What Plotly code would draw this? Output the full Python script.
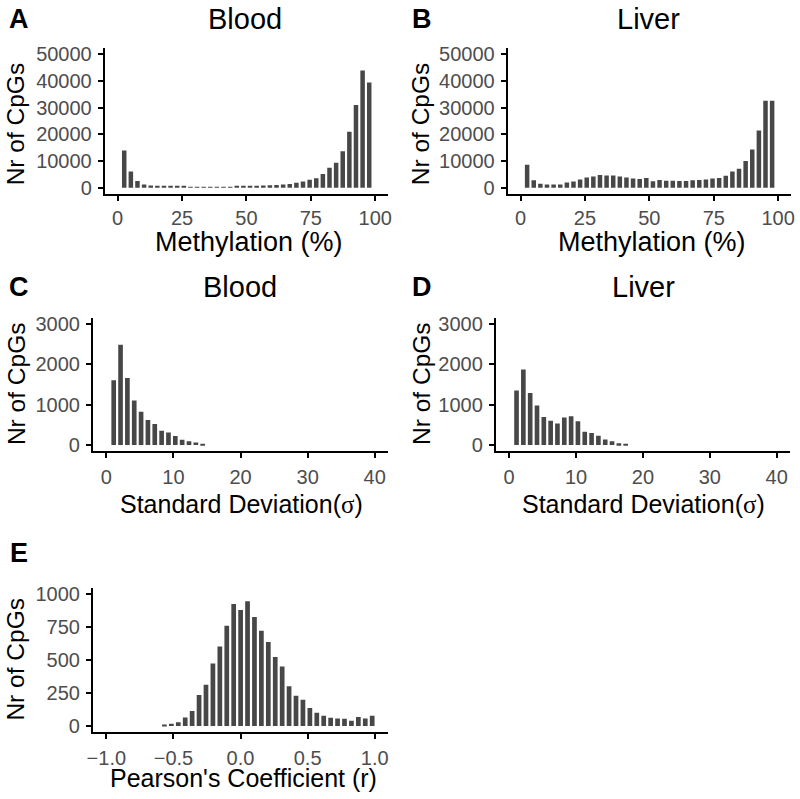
import plotly.graph_objects as go

# ---------------- data ----------------
blood_meth = [13900, 6100, 2500, 1200, 850, 650, 550, 450, 400, 350, 300, 280, 260,
              260, 270, 290, 320, 360, 420, 600, 750, 800, 900, 1000, 1200, 1400,
              1800, 2300, 3000, 3500, 5100, 7500, 9300, 13700, 21000, 31000, 44000, 39500]
liver_meth = [8600, 2800, 1500, 1200, 1200, 1200, 1900, 2300, 3100, 3800, 4200, 4700, 4600,
              4600, 4200, 3800, 3400, 3200, 3600, 2400, 2900, 2600, 2600, 2500, 2500, 2800,
              2900, 3100, 3400, 3600, 4500, 6100, 7100, 10000, 14300, 21400, 32600, 32600]
blood_sd = [1600, 2480, 1660, 1100, 820, 620, 520, 350, 310, 220, 130, 90, 60, 10]
liver_sd = [1350, 1870, 1290, 980, 690, 600, 530, 680, 710, 590, 330, 295, 230, 135, 95, 40, 10]
pearson = [8, 17, 27, 64, 114, 235, 313, 474, 603, 760, 925, 881, 946, 827, 722, 638,
           523, 451, 302, 228, 198, 136, 99, 77, 62, 57, 55, 40, 67, 57, 77]

# bin layout (first bin centre, bin width)
meth_bins = (2.56, 2.57)
sd_bins = (1.1, 1.02)
r_bins = (-0.567, 0.0516)

meth_ticks = [0, 25, 50, 75, 100]
sd_ticks = [0, 10, 20, 30, 40]
r_ticks = [-1.0, -0.5, 0.0, 0.5, 1.0]


def centers(b, n):
    return [b[0] + b[1] * i for i in range(n)]


W, H = 800, 799
BAR = "#474747"
FONT = "Liberation Sans, Arial, sans-serif"

panels = [
    # name, values, bins, x px range, y px range, xrange, xticks, yrange, ydtick, x-label standoff
    ("", blood_meth, meth_bins, (100, 387), (43.3, 191.7), [-5, 105], meth_ticks, [-2500, 52500], 10000, 0),
    ("2", liver_meth, meth_bins, (508, 795), (43.3, 191.7), [-5, 105], meth_ticks, [-2500, 52500], 10000, 0),
    ("3", blood_sd, sd_bins, (88, 387), (316.7, 451.7), [-2, 42], sd_ticks, [-150, 3150], 1000, 2),
    ("4", liver_sd, sd_bins, (496, 794), (316.7, 451.7), [-2, 42], sd_ticks, [-150, 3150], 1000, 2),
    ("5", pearson, r_bins, (88, 387), (590, 736.7), [-1.1, 1.1], r_ticks, [-50, 1050], 250, 2),
]

fig = go.Figure()
layout = dict(
    width=W, height=H, margin=dict(l=0, r=0, t=0, b=0),
    paper_bgcolor="white", plot_bgcolor="white", showlegend=False,
    font=dict(family=FONT),
)

for name, vals, bins, xpx, ypx, xr, xt, yr, ydt, xso in panels:
    xs = centers(bins, len(vals))
    fig.add_trace(go.Bar(
        x=xs, y=vals, width=bins[1] * 0.68,
        marker=dict(color=BAR, line=dict(width=0)),
        xaxis="x" + name, yaxis="y" + name, hoverinfo="skip",
    ))
    axcommon = dict(showline=True, linecolor="black", linewidth=2, ticks="outside",
                    ticklen=5, tickwidth=1.5, tickcolor="black", showgrid=False,
                    zeroline=False,
                    tickfont=dict(family=FONT, size=20, color="#4d4d4d"))
    layout["xaxis" + name] = dict(
        domain=[xpx[0] / W, xpx[1] / W], range=xr, tickvals=xt,
        tickformat=".1f" if name == "5" else "d", ticklabelstandoff=xso,
        anchor="y" + name, **axcommon)
    layout["yaxis" + name] = dict(
        domain=[1 - ypx[1] / H, 1 - ypx[0] / H], range=yr, dtick=ydt, tick0=0,
        tickformat="d", ticklabelstandoff=2, anchor="x" + name, **axcommon)

annots = []


def txt(s, x, y, size, bold=False, angle=0):
    annots.append(dict(
        text=("<b>%s</b>" % s) if bold else s, x=x / W, y=1 - y / H, xref="paper", yref="paper",
        xanchor="center", yanchor="middle", showarrow=False, textangle=angle,
        font=dict(family=FONT, size=size, color="black")))


# panel letters
for lab, x, y in [("A", 13, 14), ("B", 421, 14), ("C", 13, 286), ("D", 421, 286), ("E", 13, 555)]:
    txt(lab, x, y, 27, bold=True)
# titles
txt("Blood", 242, 14, 29)
txt("Liver", 651, 14, 29)
txt("Blood", 237, 286, 29)
txt("Liver", 646, 286, 29)
# y-axis titles
for x, y in [(10, 120), (420, 120), (10, 383), (420, 383), (10, 662)]:
    txt("Nr of CpGs", x, y, 24.5, angle=-90)
# x-axis titles
sigma = "Standard Deviation(<span style='font-family:Liberation Serif, Times New Roman, serif'>σ</span>)"
txt("Methylation (%)", 246, 240, 27)
txt("Methylation (%)", 654, 240, 27)
txt(sigma, 238, 505, 25)
txt(sigma, 646, 505, 25)
txt("Pearson's Coefficient (r)", 240, 783, 25)

layout["annotations"] = annots
fig.update_layout(**layout)
fig.write_html("out.html", config={"displayModeBar": False},
               post_script="document.body.style.margin='0';")
